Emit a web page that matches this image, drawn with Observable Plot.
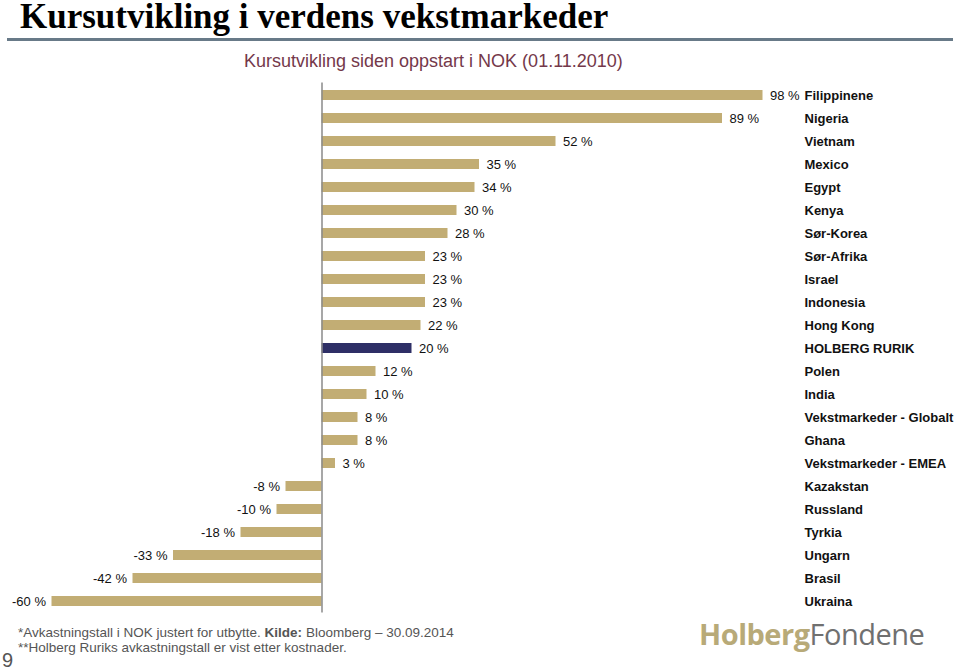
<!DOCTYPE html>
<html>
<head>
<meta charset="utf-8">
<script src="https://cdn.jsdelivr.net/npm/d3@7"></script>
<script src="https://cdn.jsdelivr.net/npm/@observablehq/plot@0.6"></script>
<style>
  html, body { margin: 0; padding: 0; background: #fff; }
  #page { position: relative; width: 960px; height: 671px; overflow: hidden; font-family: "Liberation Sans", Arial, sans-serif; }
  #title { position: absolute; left: 20px; top: 0px; line-height: 34px; font-family: "Liberation Serif", "Times New Roman", serif; font-weight: bold; font-size: 35px; color: #000; white-space: nowrap; }
  #rule { position: absolute; left: 7px; top: 38px; width: 946px; height: 3px; background: #687a88; }
  #subtitle { position: absolute; left: 244px; top: 51px; font-size: 18px; color: #74384a; white-space: nowrap; }
  #chart { position: absolute; left: 0; top: 76px; }
  #foot1, #foot2 { position: absolute; left: 18px; font-size: 13.5px; color: #555; white-space: nowrap; }
  #foot1 { top: 625px; }
  #foot2 { top: 640px; }
  #pagenum { position: absolute; left: 2px; top: 649px; font-size: 20px; color: #555; }
  #logo { position: absolute; left: 699px; top: 614px; font-size: 29px; white-space: nowrap; font-family: "Open Sans", "Liberation Sans", sans-serif; letter-spacing: -0.5px; }
  #logo .a { color: #b8aa78; font-weight: bold; }
  #logo .b { color: #707070; }
</style>
</head>
<body>
<div id="page">
  <div id="title">Kursutvikling i verdens vekstmarkeder</div>
  <div id="rule"></div>
  <div id="subtitle">Kursutvikling siden oppstart i NOK (01.11.2010)</div>
  <div id="chart"></div>
  <div id="foot1">*Avkastningstall i NOK justert for utbytte. <b>Kilde:</b> Bloomberg – 30.09.2014</div>
  <div id="foot2">**Holberg Ruriks avkastningstall er vist etter kostnader.</div>
  <div id="pagenum">9</div>
  <div id="logo"><span class="a">Holberg</span><span class="b">Fondene</span></div>
</div>
<script>
const categories = ["Filippinene","Nigeria","Vietnam","Mexico","Egypt","Kenya","Sør-Korea","Sør-Afrika","Israel","Indonesia","Hong Kong","HOLBERG RURIK","Polen","India","Vekstmarkeder - Globalt","Ghana","Vekstmarkeder - EMEA","Kazakstan","Russland","Tyrkia","Ungarn","Brasil","Ukraina"];
const values = [98,89,52,35,34,30,28,23,23,23,22,20,12,10,8,8,3,-8,-10,-18,-33,-42,-60];
const highlight = "HOLBERG RURIK";

const data = categories.map((c, i) => ({name: c, value: values[i], hl: c === highlight}));
const fmt = v => `${v} %`;

const chart = Plot.plot({
  width: 960,
  height: 540,
  marginLeft: 51.5,
  marginRight: 197.5,
  marginTop: 6.5,
  marginBottom: 3.5,
  style: {fontFamily: "'Liberation Sans', Arial, sans-serif", background: "transparent"},
  x: {domain: [-60, 98], axis: null},
  y: {domain: categories, axis: null, paddingInner: 0.58, paddingOuter: 0.29},
  marks: [
    Plot.barX(data, {x: "value", y: "name", fill: d => d.hl ? "#2e2f66" : "#c2ad74"}),
    Plot.ruleX([0], {stroke: "#8a8a8a", strokeWidth: 1.5}),
    Plot.text(data.filter(d => d.value >= 0), {x: "value", y: "name", text: d => fmt(d.value), textAnchor: "start", dx: 7, fontSize: 13, fill: "#111", fontWeight: d => d.hl ? "bold" : "normal", letterSpacing: -0.3}),
    Plot.text(data.filter(d => d.value < 0), {x: "value", y: "name", text: d => fmt(d.value), textAnchor: "end", dx: -6, fontSize: 13, fill: "#111", letterSpacing: -0.3}),
    Plot.text(data, {y: "name", text: "name", frameAnchor: "right", textAnchor: "start", dx: 41.5, fontSize: 13, fontWeight: "bold", fill: "#111", letterSpacing: -0.4})
  ]
});
document.getElementById("chart").appendChild(chart);
</script>
</body>
</html>
